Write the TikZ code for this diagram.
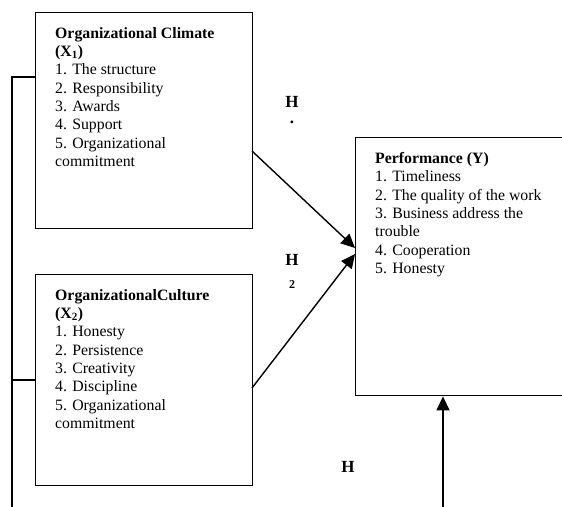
\documentclass[tikz,border=0pt]{standalone}
\usepackage{fontspec}
\setmainfont{Liberation Serif}
\usetikzlibrary{arrows.meta}
\begin{document}
\begin{tikzpicture}[x=1pt,y=-1pt,
  box/.style={draw,line width=1.4pt,minimum width=#1,inner sep=0pt,anchor=north west},
  txt/.style={anchor=north west,align=left,inner sep=0pt,font=\fontsize{15.8}{18.35}\selectfont},
  lbl/.style={font=\fontsize{17}{18}\selectfont\bfseries,inner sep=0pt},
  conn/.style={line width=1.4pt},
  arr/.style={line width=1.4pt,-{Triangle[length=14pt,width=13pt]}}]
\useasboundingbox (0,0) rectangle (562,506);
\clip (0,0) rectangle (562,506);
% boxes
\node[box=217pt,minimum height=216pt] (b1) at (35,12) {};
\node[box=217pt,minimum height=211pt] (b2) at (35,274) {};
\node[box=210pt,minimum height=258pt] (py) at (355,137) {};
% texts
\node[txt] (t1) at (55,27) {\textbf{Organizational Climate}\\\textbf{(X\textsubscript{1})}\\1. The structure\\2. Responsibility\\3. Awards\\4. Support\\5. Organizational\\commitment};
\node[txt] (t2) at (55,289) {\textbf{OrganizationalCulture}\\\textbf{(X\textsubscript{2})}\\1. Honesty\\2. Persistence\\3. Creativity\\4. Discipline\\5. Organizational\\commitment};
\node[txt] (ty) at (375,152) {\textbf{Performance (Y)}\\1. Timeliness\\2. The quality of the work\\3. Business address the\\trouble\\4. Cooperation\\5. Honesty};
% labels
\node[lbl] (h1) at (292,102) {H};
\node[lbl] (h1d) at (292,122) {.};
\node[lbl] (h2) at (292,260) {H};
\node[lbl,font=\fontsize{12}{13}\selectfont\bfseries] (h2n) at (292,285) {2};
\node[lbl] (h3) at (348,467) {H};
% connectors
\coordinate (a1) at (252,151);
\coordinate (a2) at (252,388);
\coordinate (tip1) at (355,248);
\coordinate (tip2) at (355,254);
\draw[arr] (a1) -- (tip1);
\draw[arr] (a2) -- (tip2);
\coordinate (l1) at (12,77);
\coordinate (l2) at (12,380);
\coordinate (lb) at (12,510);
\draw[conn] (b1.west |- l1) -- (l1) -- (lb);
\draw[conn] (b2.west |- l2) -- (l2);
\coordinate (vb) at (443,510);
\draw[arr] (vb) -- (vb |- py.south);
\end{tikzpicture}
\end{document}
